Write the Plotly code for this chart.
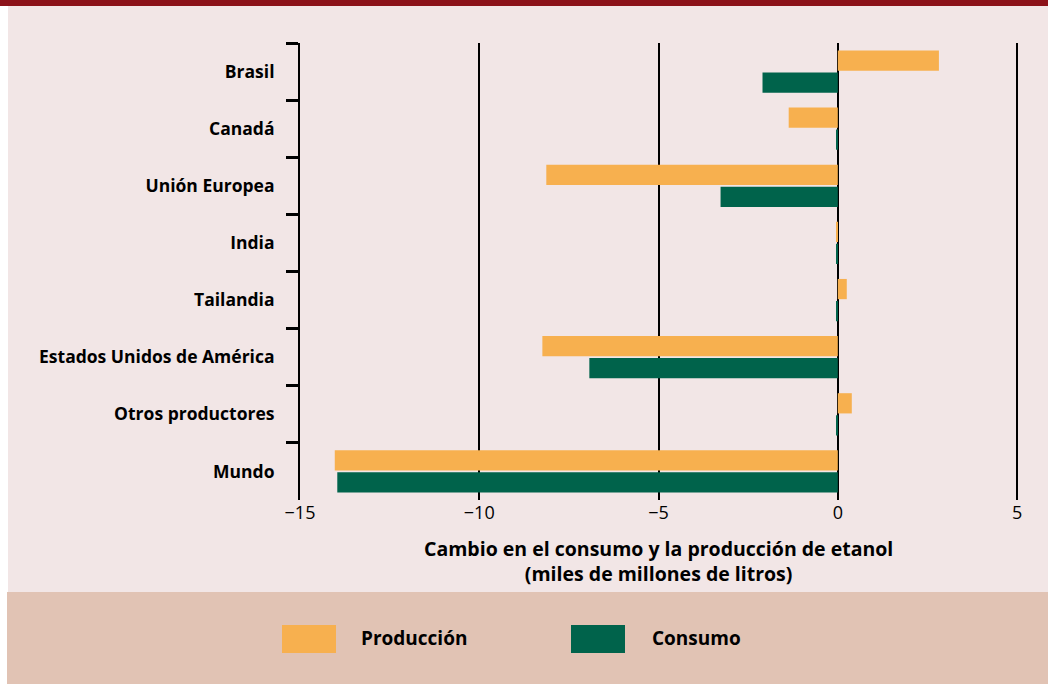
import plotly.graph_objects as go

# Data
paises = ["Brasil", "Canadá", "Unión Europea", "India", "Tailandia",
          "Estados Unidos de América", "Otros productores", "Mundo"]
produccion = [2.82, -1.37, -8.13, -0.05, 0.25, -8.24, 0.39, -14.03]
consumo = [-2.10, -0.03, -3.27, -0.03, -0.03, -6.93, -0.05, -13.96]
x_ticks = [-15, -10, -5, 0, 5]
x_tick_labels = ["\u221215", "\u221210", "\u22125", "0", "5"]

ORANGE = "#F7B04F"
GREEN = "#00634B"
PINK = "#F2E6E6"
BEIGE = "#E1C3B4"
DARKRED = "#8C1219"

W, H = 1048, 684
L, R, T, B = 300, 13, 43, 184
PW, PH = W - L - R, H - T - B


def px(xp):
    return (xp - L) / PW


def py(yp):
    return (H - B - yp) / PH


fig = go.Figure()
fig.add_trace(go.Bar(y=paises, x=produccion, orientation="h", name="Producción",
                     marker=dict(color=ORANGE, line=dict(width=0))))
fig.add_trace(go.Bar(y=paises, x=consumo, orientation="h", name="Consumo",
                     marker=dict(color=GREEN, line=dict(width=0))))

# background panels
fig.add_shape(type="rect", xref="paper", yref="paper", x0=px(0), x1=px(8), y0=py(H), y1=py(0),
              fillcolor="white", line_width=0, layer="below")
fig.add_shape(type="rect", xref="paper", yref="paper", x0=px(0), x1=px(W), y0=py(6), y1=py(0),
              fillcolor=DARKRED, line_width=0, layer="below")
fig.add_shape(type="rect", xref="paper", yref="paper", x0=px(7), x1=px(W), y0=py(H), y1=py(592),
              fillcolor=BEIGE, line_width=0, layer="below")

# legend swatches
font = "Open Sans"
for x0, col, label, tx in [(282, ORANGE, "Producción", 359), (571, GREEN, "Consumo", 650)]:
    fig.add_shape(type="rect", xref="paper", yref="paper", x0=px(x0), x1=px(x0 + 54),
                  y0=py(653), y1=py(625), fillcolor=col, line_width=0)
    fig.add_annotation(xref="paper", yref="paper", x=px(tx), y=py(638), text=label,
                       showarrow=False, xanchor="left", yanchor="middle",
                       font=dict(family=font, size=19, color="black", weight="bold"))

# axis title
fig.add_annotation(xref="x", yref="paper", x=-5, y=py(561),
                   text="Cambio en el consumo y la producción de etanol<br>(miles de millones de litros)",
                   showarrow=False, xanchor="center", yanchor="middle",
                   font=dict(family=font, size=19.5, color="black", weight="bold"))

fig.update_layout(
    width=W, height=H,
    margin=dict(l=L, r=R, t=T, b=B),
    paper_bgcolor=PINK, plot_bgcolor=PINK,
    barmode="group", bargap=0.23, bargroupgap=0.08,
    showlegend=False,
    font=dict(family=font, color="black"),
)
fig.update_xaxes(range=[-15, 5.5], tickvals=x_ticks, ticktext=x_tick_labels,
                 showgrid=True, gridcolor="black", gridwidth=1.5,
                 zeroline=True, zerolinecolor="black", zerolinewidth=1.5,
                 showline=False, ticks="", tickfont=dict(size=18, family=font),
                 fixedrange=True)
fig.update_yaxes(autorange="reversed", showline=True, linecolor="black", linewidth=2,
                 ticks="outside", ticklen=12, tickwidth=3, tickcolor="black",
                 tickson="boundaries", ticklabelstandoff=20,
                 tickfont=dict(size=17.5, family=font, weight="bold"),
                 showgrid=False, fixedrange=True)

# page without the default body margin so the figure fills the window
fig.write_html("out.html", config={"displayModeBar": False},
               post_script="document.body.style.margin='0';")
